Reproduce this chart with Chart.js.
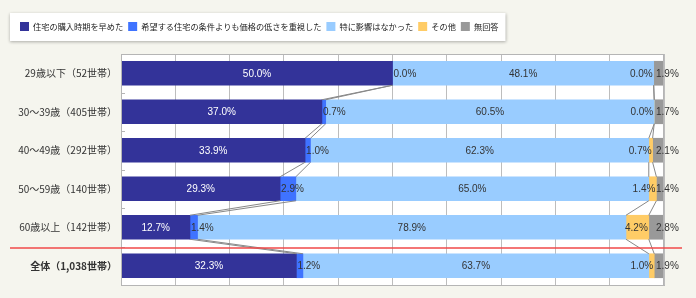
<!DOCTYPE html>
<html lang="ja">
<head>
<meta charset="utf-8">
<script src="https://cdn.jsdelivr.net/npm/chart.js@4/dist/chart.umd.min.js"></script>
<style>
  html, body { margin: 0; padding: 0; background: #f5f5ee; }
  #wrap { width: 696px; height: 298px; }
</style>
</head>
<body>
<div id="wrap"><canvas id="myBarChart" width="696" height="298"></canvas></div>
<script>
const categorias = ['29歳以下（52世帯）', '30〜39歳（405世帯）', '40〜49歳（292世帯）', '50〜59歳（140世帯）', '60歳以上（142世帯）', '全体（1,038世帯）'];
const seriesNames = ['住宅の購入時期を早めた', '希望する住宅の条件よりも価格の低さを重視した', '特に影響はなかった', 'その他', '無回答'];
const hayameta = [50.0, 37.0, 33.9, 29.3, 12.7, 32.3];
const kakakuJushi = [0.0, 0.7, 1.0, 2.9, 1.4, 1.2];
const eikyouNashi = [48.1, 60.5, 62.3, 65.0, 78.9, 63.7];
const sonota = [0.0, 0.0, 0.7, 1.4, 4.2, 1.0];
const muKaitou = [1.9, 1.7, 2.1, 1.4, 2.8, 1.9];

const cores = ['#333399', '#3F73FF', '#99CCFF', '#FFCC66', '#999999'];
const labelCores = ['#ffffff', '#333333', '#333333', '#333333', '#333333'];
const labelAlign = ['center', 'start', 'center', 'end', 'right'];
const valores = [hayameta, kakakuJushi, eikyouNashi, sonota, muKaitou];

const datasets = valores.map((v, i) => ({
    label: seriesNames[i],
    data: v,
    backgroundColor: cores[i],
    borderWidth: 0,
    barThickness: 24,
    categoryPercentage: 1,
}));

// fundo, caixa da legenda e area do grafico
const fundoPlugin = {
    id: 'fundo',
    beforeInit(chart) {
        const fitOrig = chart.legend.fit;
        chart.legend.fit = function () {
            fitOrig.call(this);
            this.height = 37;
        };
    },
    beforeDraw(chart) {
        const ctx = chart.ctx;
        const a = chart.chartArea;
        ctx.save();
        ctx.fillStyle = '#f5f5ee';
        ctx.fillRect(0, 0, chart.width, chart.height);
        const boxes = chart.legend.legendHitBoxes;
        if (boxes && boxes.length) {
            const last = boxes[boxes.length - 1];
            ctx.shadowColor = 'rgba(0,0,0,0.3)';
            ctx.shadowBlur = 3;
            ctx.shadowOffsetY = 1;
            ctx.fillStyle = '#ffffff';
            ctx.fillRect(10, 13, last.left + last.width + 7 - 10, 28);
            ctx.shadowColor = 'transparent';
        }
        ctx.fillStyle = '#ffffff';
        ctx.fillRect(a.left, a.top, a.right - a.left, a.bottom - a.top);
        ctx.restore();
    },
    afterDatasetsDraw(chart) {
        const ctx = chart.ctx;
        const a = chart.chartArea;
        const metas = chart.data.datasets.map((d, i) => chart.getDatasetMeta(i));
        ctx.save();
        // linhas de conexao entre as barras
        ctx.strokeStyle = '#888888';
        ctx.lineWidth = 1;
        for (let r = 0; r < categorias.length - 1; r++) {
            for (let s = 0; s < 4; s++) {
                const b1 = metas[s].data[r];
                const b2 = metas[s].data[r + 1];
                ctx.beginPath();
                ctx.moveTo(b1.x, b1.y + b1.height / 2);
                ctx.lineTo(b2.x, b2.y - b2.height / 2);
                ctx.stroke();
            }
        }
        // contorno da area
        ctx.strokeStyle = '#b5b5b5';
        ctx.strokeRect(a.left + 0.5, a.top + 0.5, a.right - a.left - 1, a.bottom - a.top);
        // pequenos tracos no eixo Y
        for (let r = 1; r < categorias.length; r++) {
            const y = Math.round((metas[0].data[r - 1].y + metas[0].data[r].y) / 2) + 0.5;
            ctx.beginPath();
            ctx.moveTo(a.left, y);
            ctx.lineTo(a.left + 4, y);
            ctx.stroke();
        }
        // rotulos de dados
        ctx.font = '10px "Liberation Sans", Arial, sans-serif';
        ctx.textBaseline = 'middle';
        metas.forEach((meta, s) => {
            meta.data.forEach((bar, r) => {
                const txt = valores[s][r].toFixed(1) + '%';
                const x0 = Math.min(bar.base, bar.x);
                const x1 = Math.min(Math.max(bar.base, bar.x), a.right);
                let x;
                if (labelAlign[s] === 'center') { ctx.textAlign = 'center'; x = (x0 + x1) / 2; }
                else if (labelAlign[s] === 'start') { ctx.textAlign = 'left'; x = x0 + 1; }
                else if (labelAlign[s] === 'end') { ctx.textAlign = 'right'; x = x1 - 1; }
                else { ctx.textAlign = 'left'; x = a.right - 8; }
                ctx.fillStyle = labelCores[s];
                ctx.fillText(txt, x, bar.y + 0.5);
            });
        });
        ctx.restore();
    },
    afterDraw(chart) {
        // linha vermelha separando o total
        const ctx = chart.ctx;
        const m = chart.getDatasetMeta(0);
        const y = (m.data[4].y + m.data[5].y) / 2 + 1.5;
        ctx.save();
        ctx.strokeStyle = '#f04848';
        ctx.lineWidth = 1.5;
        ctx.beginPath();
        ctx.moveTo(10, y);
        ctx.lineTo(682, y);
        ctx.stroke();
        ctx.restore();
    }
};

var barCtx = document.getElementById('myBarChart').getContext('2d');
const barChart = new Chart(barCtx, {
    type: 'bar',
    data: { labels: categorias, datasets: datasets },
    plugins: [fundoPlugin],
    options: {
        indexAxis: 'y',
        responsive: false,
        animation: false,
        devicePixelRatio: 1,
        layout: { padding: { top: 17, left: 15, right: 32, bottom: 13 } },
        plugins: {
            legend: {
                position: 'top',
                align: 'start',
                labels: {
                    boxWidth: 9,
                    boxHeight: 9,
                    padding: 5,
                    color: '#222222',
                    font: { size: 8.2, family: '"Noto Sans CJK JP", sans-serif' }
                }
            },
            tooltip: { enabled: false }
        },
        scales: {
            x: {
                stacked: true,
                min: 0,
                max: 100,
                ticks: { display: false, stepSize: 10 },
                grid: { color: '#bdbdbd', drawTicks: false },
                border: { color: '#b5b5b5' },
                afterFit(scale) { scale.height = 0; }
            },
            y: {
                stacked: true,
                grid: { display: false, drawTicks: false, tickLength: 0 },
                border: { display: false },
                ticks: {
                    padding: 4,
                    color: '#333333',
                    font: (c) => ({
                        size: 10,
                        family: '"Noto Sans CJK JP", sans-serif',
                        weight: c.index === categorias.length - 1 ? 'bold' : 'normal'
                    })
                },
                afterFit(scale) { scale.width = 106; }
            }
        }
    }
});
</script>
</body>
</html>
